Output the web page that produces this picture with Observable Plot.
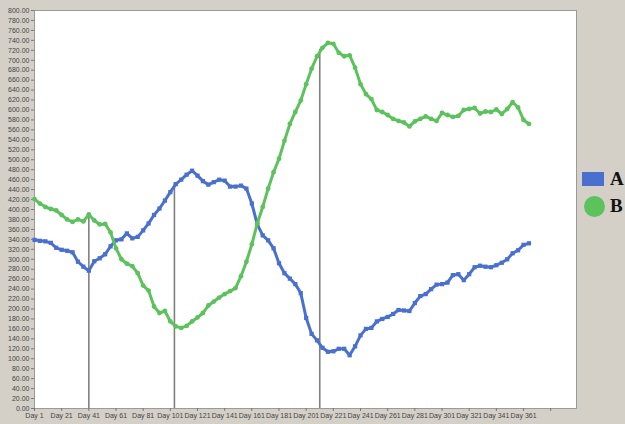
<!DOCTYPE html>
<html>
<head>
<meta charset="utf-8">
<script src="https://cdn.jsdelivr.net/npm/d3@7"></script>
<script src="https://cdn.jsdelivr.net/npm/@observablehq/plot@0.6"></script>
<style>
  body { margin: 0; background: #d4d0c8; }
  #wrap { position: relative; width: 625px; height: 424px; background: #d4d0c8; overflow: hidden; }
  .leg { position: absolute; font-family: "Liberation Serif", "DejaVu Serif", serif; font-weight: bold; font-size: 19px; color: #111; }
</style>
</head>
<body>
<div id="wrap"></div>
<script>
// sampled every 4 days, Day 1 .. Day 365
const days = d3.range(1, 366, 4);
const seriesA = [
  339,337,336,333,323,319,317,314,295,285,
  277,296,302,310,326,338,340,352,342,345,
  358,372,389,402,418,435,451,460,470,478,
  468,457,450,455,460,458,446,446,448,442,
  412,370,348,338,322,292,272,261,250,232,
  182,150,137,122,114,115,120,120,107,125,
  147,160,162,175,180,184,190,198,197,196,
  212,226,230,240,249,250,253,268,270,258,
  270,284,287,285,284,288,293,300,312,318,
  329,332
];
const seriesB = [
  421,412,405,401,398,389,380,375,380,376,
  390,378,370,371,354,322,300,291,286,272,
  247,237,205,192,196,175,165,162,166,175,
  183,192,207,215,223,230,236,242,266,295,
  330,372,405,442,475,502,538,572,596,619,
  652,683,708,725,735,733,715,708,710,685,
  652,632,622,600,596,590,582,578,575,567,
  577,582,587,582,578,594,590,586,588,600,
  602,604,593,597,596,601,592,602,616,605,
  580,572
];
const markerDays = [41, 104, 211];
const markerValues = [390, 452, 722];
const xTicks = d3.range(1, 382, 20);
const yTicks = d3.range(0, 801, 20);
const seriesNames = ["A", "B"];
const colors = ["#4a70cf", "#5cc25c"];

const dataA = days.map((d, i) => ({day: d, v: seriesA[i]}));
const dataB = days.map((d, i) => ({day: d, v: seriesB[i]}));
const markers = markerDays.map((d, i) => ({day: d, v: markerValues[i]}));

const chart = Plot.plot({
  width: 625,
  height: 424,
  marginLeft: 34,
  marginRight: 49,
  marginTop: 10,
  marginBottom: 16,
  style: {background: "transparent", fontFamily: "Liberation Sans, Arial, sans-serif", fontSize: "7px", color: "#444"},
  x: {domain: [1, 400]},
  y: {domain: [0, 800]},
  marks: [
    Plot.frame({fill: "white", stroke: "#9a9a9a"}),
    Plot.axisY({ticks: yTicks, tickFormat: d3.format(".2f"), tickSize: 3, tickPadding: 2, stroke: "#777", fill: "#444", fontSize: 7, label: null}),
    Plot.axisX({ticks: xTicks, tickFormat: d => d <= 361 ? "Day " + d : "", tickSize: 3, tickPadding: 2, stroke: "#777", fill: "#444", fontSize: 7, label: null}),
    Plot.ruleX(markers, {x: "day", y1: 0, y2: "v", stroke: "#808080", strokeWidth: 1.6}),
    Plot.line(dataA, {x: "day", y: "v", stroke: colors[0], strokeWidth: 3}),
    Plot.dot(dataA, {x: "day", y: "v", symbol: "square", r: 2.4, fill: colors[0]}),
    Plot.line(dataB, {x: "day", y: "v", stroke: colors[1], strokeWidth: 3}),
    Plot.dot(dataB, {x: "day", y: "v", symbol: "circle", r: 2.4, fill: colors[1]})
  ]
});
const wrap = document.getElementById("wrap");
wrap.appendChild(chart);

// legend
const legA = document.createElement("div");
legA.style.cssText = "position:absolute;left:582px;top:172px;width:22px;height:14px;background:" + colors[0];
const legB = document.createElement("div");
legB.style.cssText = "position:absolute;left:584px;top:196px;width:21px;height:21px;border-radius:50%;background:" + colors[1];
const tA = document.createElement("div");
tA.className = "leg"; tA.textContent = seriesNames[0];
tA.style.left = "610px"; tA.style.top = "168px";
const tB = document.createElement("div");
tB.className = "leg"; tB.textContent = seriesNames[1];
tB.style.left = "610px"; tB.style.top = "195px";
wrap.append(legA, legB, tA, tB);
</script>
</body>
</html>
